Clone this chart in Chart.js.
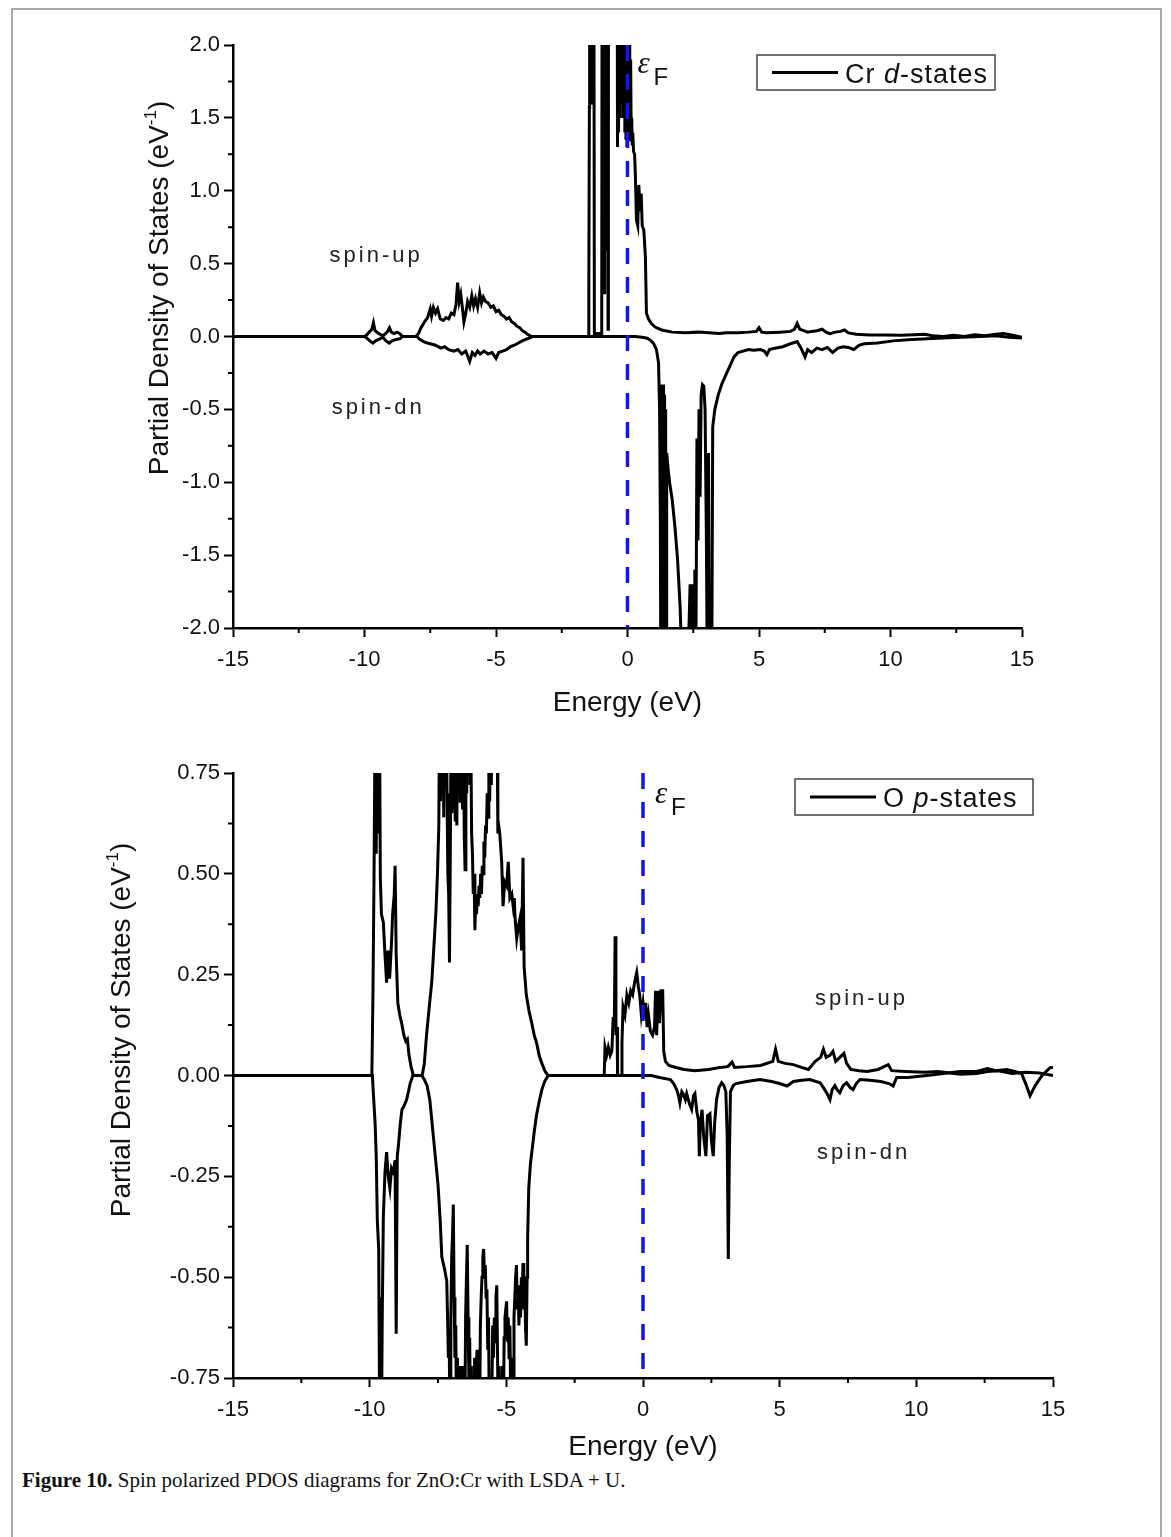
<!DOCTYPE html>
<html>
<head>
<meta charset="utf-8">
<script src="https://cdn.jsdelivr.net/npm/chart.js@4.4.1/dist/chart.umd.min.js"></script>
<style>
  html, body { margin: 0; padding: 0; background: #fff; }
  body { width: 1171px; height: 1537px; position: relative; overflow: hidden; }
  .frame { position: absolute; left: 11px; top: 8px; width: 1147px; height: 1600px; border: 2px solid #a8a8a8; }
  canvas { position: absolute; left: 0; }
  #crChart { top: 0; }
  #oChart { top: 740px; }
  .caption { position: absolute; left: 22px; top: 1468px; font: 21px "Liberation Serif", "Times New Roman", serif; color: #111; }
</style>
</head>
<body>
<div class="frame"></div>
<canvas id="crChart" width="1171" height="720"></canvas>
<canvas id="oChart" width="1171" height="724"></canvas>
<div class="caption"><b>Figure 10.</b> Spin polarized PDOS diagrams for ZnO:Cr with LSDA + U.</div>
<script>
// Cr d-states, [energy eV, PDOS]; values above the axis limits get clipped
const crUp = [
  [-15, 0], [-10.0, 0], [-9.92, 0.01], [-9.82, 0.03], [-9.72, 0.05], [-9.66, 0.095], [-9.6, 0.04], [-9.5, 0.025],
  [-9.4, 0.015], [-9.3, 0.005], [-9.2, 0.02], [-9.12, 0.035], [-9.05, 0.06], [-8.98, 0.03], [-8.88, 0.02],
  [-8.76, 0.03], [-8.66, 0.02], [-8.55, 0], [-8.05, 0],
  [-7.95, 0.02], [-7.85, 0.06], [-7.72, 0.1], [-7.6, 0.13], [-7.5, 0.19], [-7.45, 0.14], [-7.38, 0.2], [-7.3, 0.16],
  [-7.22, 0.19], [-7.12, 0.12], [-7.0, 0.11], [-6.9, 0.13], [-6.8, 0.12], [-6.7, 0.16], [-6.6, 0.15], [-6.52, 0.22],
  [-6.46, 0.37], [-6.4, 0.24], [-6.34, 0.29], [-6.28, 0.2], [-6.22, 0.1], [-6.15, 0.16], [-6.08, 0.24], [-6.0, 0.2],
  [-5.92, 0.28], [-5.85, 0.21], [-5.78, 0.26], [-5.7, 0.2], [-5.62, 0.3], [-5.55, 0.23], [-5.48, 0.27], [-5.4, 0.24],
  [-5.3, 0.23], [-5.2, 0.2], [-5.1, 0.21], [-5.0, 0.17], [-4.9, 0.18], [-4.8, 0.15], [-4.7, 0.14], [-4.6, 0.12],
  [-4.5, 0.13], [-4.4, 0.1], [-4.3, 0.09], [-4.2, 0.07], [-4.1, 0.06], [-4.0, 0.04], [-3.9, 0.03], [-3.8, 0.015],
  [-3.65, 0],
  [-1.5, 0], [-1.47, 0.34], [-1.45, 1.57], [-1.44, 3.2], [-1.42, 1.6], [-1.4, 3.0], [-1.38, 1.7], [-1.36, 3.1],
  [-1.34, 1.6], [-1.32, 3.0], [-1.3, 1.8], [-1.28, 3.0], [-1.26, 0.02],
  [-0.98, 0.02], [-0.965, 3.0], [-0.95, 0.4], [-0.935, 3.0], [-0.92, 1.0], [-0.905, 3.0], [-0.89, 0.3], [-0.875, 3.0],
  [-0.86, 1.2], [-0.845, 3.0], [-0.83, 0.8], [-0.815, 3.0], [-0.8, 1.3], [-0.785, 3.0], [-0.77, 0.6], [-0.755, 3.0],
  [-0.74, 0.05], [-0.725, 3.5], [-0.4, 3.6], [-0.38, 1.3], [-0.36, 3.0], [-0.34, 1.4], [-0.32, 3.0], [-0.3, 1.5],
  [-0.28, 3.0], [-0.26, 1.6], [-0.24, 3.0], [-0.22, 1.8], [-0.2, 3.0], [-0.18, 1.5], [-0.16, 3.0], [-0.14, 1.6],
  [-0.12, 2.8], [-0.1, 1.4], [-0.08, 2.9], [-0.06, 1.35], [-0.04, 2.6], [-0.02, 1.3], [0.0, 2.5], [0.02, 1.45],
  [0.04, 2.3], [0.06, 1.4], [0.08, 2.2], [0.1, 1.35], [0.12, 1.9], [0.14, 1.4], [0.16, 1.5], [0.18, 1.32],
  [0.2, 1.4], [0.23, 1.27], [0.27, 1.25], [0.3, 1.1], [0.34, 0.8], [0.39, 0.76], [0.43, 1.04], [0.48, 0.86],
  [0.52, 0.98], [0.56, 0.76], [0.62, 0.73], [0.68, 0.55], [0.72, 0.16], [0.8, 0.12], [0.9, 0.09], [1.05, 0.065],
  [1.3, 0.045], [1.7, 0.03], [2.2, 0.025], [2.7, 0.03], [3.1, 0.025], [3.5, 0.02], [3.75, 0.025], [4.2, 0.025],
  [4.6, 0.03], [4.9, 0.035], [5.0, 0.06], [5.1, 0.03], [5.3, 0.025], [5.8, 0.03], [6.2, 0.035], [6.35, 0.05],
  [6.45, 0.09], [6.55, 0.05], [6.7, 0.04], [6.85, 0.03], [7.0, 0.035], [7.2, 0.04], [7.4, 0.05], [7.55, 0.03],
  [7.7, 0.02], [7.9, 0.03], [8.1, 0.035], [8.25, 0.045], [8.4, 0.025], [8.7, 0.015], [9.2, 0.01], [9.8, 0.01],
  [10.4, 0.008], [10.9, 0.012], [11.3, 0.015], [11.6, 0.005], [12.0, 0.0], [12.4, 0.008], [12.8, 0.0],
  [13.2, 0.012], [13.6, 0.005], [14.0, 0.015], [14.3, 0.02], [14.6, 0.01], [15, -0.005]
];
const crDn = [
  [-15, 0], [-10.0, 0], [-9.92, -0.01], [-9.8, -0.03], [-9.68, -0.045], [-9.58, -0.03], [-9.45, -0.02], [-9.3, -0.005],
  [-9.18, -0.03], [-9.06, -0.045], [-8.95, -0.03], [-8.8, -0.02], [-8.65, -0.015], [-8.55, 0], [-8.0, 0],
  [-7.9, -0.02], [-7.7, -0.04], [-7.5, -0.05], [-7.3, -0.06], [-7.1, -0.08], [-6.95, -0.07], [-6.8, -0.09],
  [-6.6, -0.1], [-6.45, -0.09], [-6.3, -0.12], [-6.15, -0.1], [-6.0, -0.17], [-5.9, -0.11], [-5.8, -0.13],
  [-5.7, -0.1], [-5.6, -0.12], [-5.45, -0.1], [-5.3, -0.12], [-5.15, -0.11], [-5.0, -0.15], [-4.9, -0.11],
  [-4.75, -0.1], [-4.6, -0.09], [-4.45, -0.07], [-4.3, -0.06], [-4.15, -0.045], [-4.0, -0.03], [-3.8, -0.015],
  [-3.6, 0],
  [0.3, 0], [0.55, -0.005], [0.75, -0.012], [0.9, -0.03], [1.0, -0.05], [1.1, -0.09], [1.18, -0.18], [1.22, -0.5],
  [1.25, -1.3], [1.27, -2.6], [1.29, -0.33], [1.31, -2.5], [1.33, -0.35], [1.35, -2.5], [1.37, -0.33], [1.39, -2.4],
  [1.41, -0.4], [1.43, -2.4], [1.45, -0.5], [1.47, -2.3], [1.49, -0.8], [1.55, -0.92],
  [1.6, -1.0], [1.7, -1.12], [1.8, -1.3], [1.9, -1.52], [2.0, -1.85], [2.06, -2.2], [2.25, -2.6], [2.38, -1.7],
  [2.41, -2.4], [2.44, -1.75], [2.47, -2.4], [2.5, -1.7], [2.53, -2.4], [2.56, -1.6], [2.6, -2.2], [2.64, -0.7],
  [2.68, -1.4], [2.72, -0.5], [2.76, -1.1], [2.8, -0.4], [2.85, -0.33], [2.9, -0.34], [2.95, -0.5], [3.0, -1.4],
  [3.04, -2.5], [3.08, -0.8], [3.12, -2.5], [3.2, -2.5], [3.24, -0.62], [3.32, -0.5], [3.45, -0.4],
  [3.6, -0.32], [3.75, -0.26], [3.9, -0.2], [4.05, -0.14], [4.2, -0.11], [4.4, -0.1], [4.6, -0.09], [4.8, -0.095],
  [5.05, -0.09], [5.2, -0.1], [5.3, -0.125], [5.4, -0.09], [5.6, -0.08], [5.9, -0.07], [6.2, -0.05], [6.45, -0.035],
  [6.6, -0.08], [6.75, -0.14], [6.85, -0.09], [7.0, -0.11], [7.2, -0.08], [7.4, -0.09], [7.6, -0.075], [7.8, -0.11],
  [8.0, -0.08], [8.2, -0.07], [8.4, -0.075], [8.6, -0.09], [8.8, -0.06], [9.0, -0.05], [9.5, -0.045], [10.1, -0.03],
  [10.8, -0.02], [11.4, -0.015], [12.0, -0.01], [12.7, -0.005], [13.4, 0.0], [14.0, 0.005], [14.5, -0.005], [15, -0.01]
];

// O p-states
const oUp = [
  [-15, 0], [-9.92, 0], [-9.88, 0.2], [-9.84, 0.5], [-9.8, 0.9], [-9.76, 0.55], [-9.72, 0.95], [-9.68, 0.6],
  [-9.64, 0.9], [-9.61, 0.49], [-9.57, 0.4], [-9.5, 0.38], [-9.44, 0.3], [-9.38, 0.23], [-9.33, 0.31], [-9.27, 0.24],
  [-9.2, 0.33], [-9.16, 0.4], [-9.1, 0.45], [-9.07, 0.52], [-9.03, 0.3], [-8.97, 0.18], [-8.9, 0.15], [-8.83, 0.13],
  [-8.75, 0.1], [-8.68, 0.085], [-8.62, 0.09], [-8.56, 0.05], [-8.48, 0.02], [-8.4, 0], [-8.08, 0],
  [-8.0, 0.03], [-7.92, 0.1], [-7.82, 0.17], [-7.73, 0.23], [-7.65, 0.32], [-7.58, 0.4], [-7.52, 0.5], [-7.47, 0.62],
  [-7.44, 0.95], [-7.41, 0.68], [-7.38, 1.0], [-7.35, 0.7], [-7.32, 0.98], [-7.29, 0.64], [-7.26, 0.95], [-7.23, 0.75],
  [-7.2, 0.95], [-7.17, 0.7], [-7.14, 0.5], [-7.11, 0.45], [-7.08, 0.28], [-7.05, 0.55], [-7.02, 0.9], [-6.99, 0.65],
  [-6.96, 0.95], [-6.93, 0.66], [-6.9, 0.95], [-6.87, 0.63], [-6.84, 0.9], [-6.81, 0.62], [-6.78, 0.95], [-6.75, 0.72],
  [-6.72, 1.0], [-6.69, 0.68], [-6.66, 1.0], [-6.63, 0.7], [-6.6, 0.66], [-6.57, 0.9], [-6.54, 0.6], [-6.51, 0.51],
  [-6.48, 0.85], [-6.45, 0.7], [-6.42, 0.95], [-6.39, 0.75], [-6.36, 0.9], [-6.33, 0.72], [-6.3, 0.85], [-6.27, 0.6],
  [-6.24, 0.55], [-6.21, 0.45], [-6.18, 0.5], [-6.15, 0.36], [-6.12, 0.44], [-6.09, 0.4], [-6.06, 0.45], [-6.03, 0.42],
  [-6.0, 0.47], [-5.97, 0.44], [-5.94, 0.5], [-5.91, 0.45], [-5.88, 0.52], [-5.85, 0.5], [-5.82, 0.58], [-5.79, 0.54],
  [-5.76, 0.62], [-5.73, 0.6], [-5.7, 0.7], [-5.67, 0.64], [-5.64, 0.76], [-5.61, 0.68], [-5.58, 0.85], [-5.55, 0.72],
  [-5.52, 0.95], [-5.49, 0.75], [-5.46, 0.95], [-5.43, 0.8], [-5.4, 0.92], [-5.37, 0.78], [-5.34, 0.9], [-5.31, 0.6],
  [-5.28, 0.62], [-5.24, 0.6], [-5.2, 0.56], [-5.17, 0.53], [-5.12, 0.42], [-5.06, 0.48], [-4.99, 0.47], [-4.93, 0.53],
  [-4.87, 0.44], [-4.8, 0.45], [-4.75, 0.42], [-4.71, 0.44], [-4.68, 0.39], [-4.62, 0.34], [-4.56, 0.37], [-4.5, 0.39],
  [-4.44, 0.31], [-4.39, 0.54], [-4.35, 0.27], [-4.27, 0.2], [-4.17, 0.16], [-4.07, 0.13], [-3.98, 0.1], [-3.89, 0.08],
  [-3.8, 0.05], [-3.7, 0.03], [-3.58, 0.01], [-3.47, 0],
  [-1.42, 0], [-1.39, 0.07], [-1.33, 0.05], [-1.27, 0.07], [-1.2, 0.05], [-1.14, 0.06], [-1.09, 0.145], [-1.05, 0.12],
  [-1.02, 0.345], [-0.99, 0.1], [-0.95, 0.12], [-0.93, 0.0], [-0.8, 0.0], [-0.77, 0.08], [-0.73, 0.17], [-0.66, 0.15],
  [-0.59, 0.2], [-0.52, 0.18], [-0.45, 0.21], [-0.38, 0.2], [-0.31, 0.23], [-0.23, 0.255], [-0.17, 0.22], [-0.12, 0.2],
  [-0.06, 0.15], [0.0, 0.18], [0.05, 0.14], [0.1, 0.18], [0.15, 0.12], [0.2, 0.15], [0.27, 0.11], [0.35, 0.1],
  [0.42, 0.12], [0.46, 0.21], [0.5, 0.1], [0.55, 0.21], [0.6, 0.13], [0.66, 0.21], [0.72, 0.21], [0.76, 0.06],
  [0.82, 0.035], [0.95, 0.025], [1.2, 0.02], [1.5, 0.015], [1.9, 0.012], [2.4, 0.015], [2.8, 0.02], [3.1, 0.022],
  [3.26, 0.033], [3.35, 0.02], [3.8, 0.022], [4.3, 0.025], [4.75, 0.035], [4.85, 0.065], [4.95, 0.035], [5.2, 0.03],
  [5.5, 0.027], [5.8, 0.02], [6.05, 0.015], [6.3, 0.035], [6.5, 0.045], [6.6, 0.065], [6.7, 0.045], [6.84, 0.05],
  [6.95, 0.06], [7.05, 0.035], [7.2, 0.045], [7.35, 0.055], [7.45, 0.03], [7.6, 0.015], [7.9, 0.012], [8.2, 0.01],
  [8.6, 0.015], [8.97, 0.027], [9.1, 0.012], [9.6, 0.01], [10.3, 0.008], [10.8, 0.01], [11.6, 0.003], [12.2, 0.005],
  [12.6, 0.01], [13.0, 0.012], [13.5, 0.005], [14.0, 0.008], [14.5, 0.006], [15, 0.0]
];
const oDn = [
  [-15, 0], [-9.9, 0], [-9.86, -0.05], [-9.8, -0.12], [-9.76, -0.2], [-9.72, -0.36], [-9.67, -0.43], [-9.63, -0.9],
  [-9.6, -0.55], [-9.57, -0.9], [-9.54, -0.6], [-9.5, -0.35], [-9.44, -0.24], [-9.38, -0.19], [-9.32, -0.25],
  [-9.26, -0.28], [-9.2, -0.23], [-9.13, -0.24], [-9.07, -0.21], [-9.03, -0.64], [-8.99, -0.2], [-8.95, -0.175],
  [-8.88, -0.12], [-8.82, -0.085], [-8.74, -0.075], [-8.65, -0.06], [-8.58, -0.04], [-8.52, -0.02], [-8.42, 0],
  [-8.1, 0],
  [-8.0, -0.01], [-7.9, -0.025], [-7.8, -0.06], [-7.7, -0.13], [-7.6, -0.2], [-7.5, -0.27], [-7.42, -0.36],
  [-7.36, -0.45], [-7.26, -0.48], [-7.18, -0.51], [-7.15, -0.6], [-7.12, -0.7], [-7.09, -0.65], [-7.06, -0.9],
  [-7.03, -0.6], [-7.0, -0.45], [-6.97, -0.4], [-6.94, -0.32], [-6.91, -0.55], [-6.88, -0.7], [-6.85, -0.62],
  [-6.82, -0.9], [-6.79, -0.7], [-6.76, -0.92], [-6.73, -0.72], [-6.7, -0.9], [-6.67, -0.78], [-6.64, -0.92],
  [-6.61, -0.72], [-6.58, -0.88], [-6.55, -0.75], [-6.52, -0.9], [-6.49, -0.6], [-6.46, -0.5], [-6.43, -0.42],
  [-6.4, -0.6], [-6.37, -0.75], [-6.34, -0.65], [-6.31, -0.9], [-6.28, -0.72], [-6.25, -0.92], [-6.22, -0.8],
  [-6.19, -0.95], [-6.16, -0.7], [-6.13, -0.9], [-6.1, -0.72], [-6.07, -0.68], [-6.04, -0.9], [-6.01, -0.7],
  [-5.98, -0.9], [-5.95, -0.62], [-5.92, -0.55], [-5.89, -0.5], [-5.86, -0.45], [-5.83, -0.43], [-5.8, -0.5],
  [-5.77, -0.47], [-5.74, -0.55], [-5.71, -0.53], [-5.68, -0.68], [-5.65, -0.6], [-5.62, -0.9], [-5.59, -0.75],
  [-5.56, -0.92], [-5.53, -0.8], [-5.5, -0.62], [-5.47, -0.7], [-5.44, -0.6], [-5.41, -0.66], [-5.38, -0.55],
  [-5.35, -0.52], [-5.32, -0.7], [-5.29, -0.9], [-5.26, -0.72], [-5.23, -0.92], [-5.2, -0.75], [-5.17, -0.9],
  [-5.14, -0.72], [-5.11, -0.85], [-5.08, -0.65], [-5.05, -0.6], [-5.02, -0.58], [-4.99, -0.56], [-4.96, -0.66],
  [-4.93, -0.6], [-4.9, -0.7], [-4.87, -0.62], [-4.84, -0.8], [-4.81, -0.9], [-4.78, -0.7], [-4.75, -0.9],
  [-4.72, -0.6], [-4.69, -0.55], [-4.66, -0.5], [-4.63, -0.47], [-4.6, -0.58], [-4.57, -0.52], [-4.54, -0.62],
  [-4.51, -0.55], [-4.48, -0.6], [-4.45, -0.5], [-4.42, -0.55], [-4.39, -0.465], [-4.36, -0.58], [-4.33, -0.5],
  [-4.3, -0.62], [-4.27, -0.67], [-4.24, -0.5], [-4.22, -0.4], [-4.18, -0.28], [-4.12, -0.22], [-4.05, -0.18],
  [-3.98, -0.14], [-3.9, -0.1], [-3.8, -0.065], [-3.7, -0.035], [-3.6, -0.015], [-3.47, 0],
  [0.3, 0], [0.6, -0.005], [1.0, -0.01], [1.12, -0.02], [1.23, -0.035], [1.3, -0.05], [1.35, -0.068], [1.42, -0.04],
  [1.47, -0.045], [1.55, -0.06], [1.6, -0.045], [1.7, -0.07], [1.78, -0.084], [1.85, -0.05], [1.9, -0.045],
  [1.97, -0.09], [2.03, -0.11], [2.06, -0.2], [2.1, -0.12], [2.16, -0.085], [2.22, -0.15], [2.3, -0.2], [2.36, -0.1],
  [2.45, -0.095], [2.5, -0.16], [2.57, -0.2], [2.62, -0.12], [2.69, -0.06], [2.78, -0.03], [2.88, -0.018],
  [2.96, -0.025], [3.03, -0.04], [3.08, -0.15], [3.12, -0.455], [3.16, -0.2], [3.2, -0.04], [3.3, -0.025],
  [3.4, -0.02], [3.8, -0.015], [4.28, -0.01], [4.7, -0.015], [5.0, -0.02], [5.27, -0.026], [5.5, -0.015],
  [5.8, -0.012], [6.1, -0.01], [6.48, -0.018], [6.6, -0.03], [6.72, -0.043], [6.84, -0.06], [6.92, -0.035],
  [7.02, -0.025], [7.1, -0.035], [7.2, -0.043], [7.32, -0.025], [7.45, -0.018], [7.58, -0.03], [7.69, -0.035],
  [7.8, -0.02], [7.94, -0.01], [8.3, -0.012], [8.7, -0.015], [9.0, -0.02], [9.15, -0.026], [9.28, -0.005],
  [9.7, -0.005], [10.38, 0.0], [11.0, 0.005], [11.6, 0.01], [12.2, 0.01], [12.6, 0.017], [12.9, 0.012],
  [13.3, 0.015], [13.6, 0.01], [13.85, 0.005], [14.0, -0.02], [14.16, -0.05], [14.35, -0.025], [14.6, 0.0],
  [14.9, 0.02], [15, 0.02]
];

// axis ticks
const energyMinor = [-12.5, -7.5, -2.5, 2.5, 7.5, 12.5];
const crMinor = [-1.75, -1.25, -0.75, -0.25, 0.25, 0.75, 1.25, 1.75];
const oMinor = [-0.625, -0.375, -0.125, 0.125, 0.375, 0.625];

const FONT = "'Liberation Sans', Arial, sans-serif";
Chart.defaults.font.family = FONT;
Chart.defaults.color = '#111';

const toXY = arr => arr.map(p => ({ x: p[0], y: p[1] }));

function curve(data) {
  return { data: toXY(data), borderColor: '#000', borderWidth: 3, pointRadius: 0, tension: 0, fill: false };
}
function fermiLine(yMin, yMax) {
  return {
    data: [{ x: 0, y: yMax }, { x: 0, y: yMin }],
    borderColor: '#1515e6', borderWidth: 3.5, borderDash: [16, 13], pointRadius: 0, fill: false
  };
}

// minor ticks, axis title with superscript, legend box and text labels
const decor = {
  id: 'decor',
  afterDraw(chart, args, o) {
    const ctx = chart.ctx;
    const xs = chart.scales.x, ys = chart.scales.y;
    const area = chart.chartArea;
    ctx.save();

    ctx.strokeStyle = '#000';
    ctx.lineWidth = 2;
    ctx.beginPath();
    o.xMinor.forEach(v => {
      const px = xs.getPixelForValue(v);
      ctx.moveTo(px, area.bottom); ctx.lineTo(px, area.bottom + 5);
    });
    o.yMinor.forEach(v => {
      const py = ys.getPixelForValue(v);
      ctx.moveTo(area.left, py); ctx.lineTo(area.left - 5, py);
    });
    ctx.stroke();

    // y title
    ctx.save();
    ctx.translate(o.yTitle.x, o.yTitle.y);
    ctx.rotate(-Math.PI / 2);
    ctx.fillStyle = '#111';
    ctx.textBaseline = 'middle';
    ctx.textAlign = 'left';
    const big = '28px ' + FONT, small = '17px ' + FONT;
    ctx.font = big;
    const w1 = ctx.measureText('Partial Density of States (eV').width;
    const w3 = ctx.measureText(')').width;
    ctx.font = small;
    const w2 = ctx.measureText('-1').width;
    let sx = -(w1 + w2 + w3) / 2;
    ctx.font = big;
    ctx.fillText('Partial Density of States (eV', sx, 0);
    ctx.font = small;
    ctx.fillText('-1', sx + w1, -9);
    ctx.font = big;
    ctx.fillText(')', sx + w1 + w2, 0);
    ctx.restore();

    // legend
    const lg = o.legend;
    ctx.strokeStyle = '#444';
    ctx.lineWidth = 1.5;
    ctx.strokeRect(lg.x, lg.y, lg.w, lg.h);
    ctx.strokeStyle = '#000';
    ctx.lineWidth = 3;
    ctx.beginPath();
    ctx.moveTo(lg.x + 15, lg.y + lg.h / 2); ctx.lineTo(lg.x + 81, lg.y + lg.h / 2);
    ctx.stroke();
    ctx.fillStyle = '#111';
    ctx.textBaseline = 'alphabetic';
    ctx.letterSpacing = '1px';
    let tx = lg.x + 88;
    lg.parts.forEach(([txt, italic]) => {
      ctx.font = (italic ? 'italic ' : '') + '27px ' + FONT;
      ctx.fillText(txt, tx, lg.y + lg.h / 2 + 10);
      tx += ctx.measureText(txt).width;
    });

    // spin labels at data positions
    ctx.font = '22px ' + FONT;
    ctx.letterSpacing = '3px';
    ctx.fillStyle = '#222';
    o.labels.forEach(l => {
      ctx.fillText(l.text, xs.getPixelForValue(l.x), ys.getPixelForValue(l.y));
    });
    ctx.letterSpacing = '0px';

    // Fermi level label
    const x0 = xs.getPixelForValue(0);
    ctx.fillStyle = '#111';
    ctx.font = 'italic 31px "Liberation Serif", serif';
    ctx.fillText('\u03B5', x0 + o.eps.dx, area.top + o.eps.dy);
    ctx.font = '24px ' + FONT;
    ctx.fillText('F', x0 + o.eps.dx + 16, area.top + o.eps.dy + 12);

    ctx.restore();
  }
};

function axisOpts(min, max, step, digits, pad, fitKey, fitVal, extra) {
  return Object.assign({
    type: 'linear', min: min, max: max,
    ticks: {
      stepSize: step, font: { size: 22 }, color: '#111', padding: pad,
      callback: v => (Math.abs(v) < 1e-9 ? 0 : v).toFixed(digits)
    },
    grid: { drawOnChartArea: false, drawTicks: true, tickLength: 9, tickWidth: 2, tickColor: '#000' },
    border: { display: true, color: '#000', width: 2.5 },
    afterFit: s => { s[fitKey] = fitVal; }
  }, extra || {});
}

function makeChart(id, up, dn, yMin, yMax, yStep, digits, cfg) {
  return new Chart(document.getElementById(id), {
    type: 'line',
    data: { datasets: [fermiLine(yMin, yMax), curve(up), curve(dn)] },
    options: {
      responsive: false,
      animation: false,
      layout: { padding: { top: cfg.padTop, right: cfg.padRight, left: 0, bottom: 0 } },
      scales: {
        x: axisOpts(-15, 15, 5, 0, 10, 'height', cfg.xHeight, {
          title: { display: true, text: 'Energy (eV)', font: { size: 28 }, color: '#111', padding: 0 }
        }),
        y: axisOpts(yMin, yMax, yStep, digits, 4, 'width', 233)
      },
      plugins: {
        legend: { display: false },
        tooltip: { enabled: false },
        decor: cfg.decor
      }
    },
    plugins: [decor]
  });
}

makeChart('crChart', crUp, crDn, -2, 2, 0.5, 1, {
  padTop: 45, padRight: 149, xHeight: 92,
  decor: {
    xMinor: energyMinor, yMinor: crMinor,
    yTitle: { x: 160, y: 288 },
    legend: { x: 757, y: 55, w: 238, h: 35, parts: [['Cr ', false], ['d', true], ['-states', false]] },
    labels: [{ text: 'spin-up', x: -11.33, y: 0.508 }, { text: 'spin-dn', x: -11.25, y: -0.535 }],
    eps: { dx: 10, dy: 28 }
  }
});

makeChart('oChart', oUp, oDn, -0.75, 0.75, 0.25, 2, {
  padTop: 33, padRight: 118, xHeight: 86,
  decor: {
    xMinor: energyMinor, yMinor: oMinor,
    yTitle: { x: 122, y: 290 },
    legend: { x: 795, y: 39, w: 238, h: 36, parts: [['O ', false], ['p', true], ['-states', false]] },
    labels: [{ text: 'spin-up', x: 6.29, y: 0.174 }, { text: 'spin-dn', x: 6.37, y: -0.206 }],
    eps: { dx: 12, dy: 30 }
  }
});
</script>
</body>
</html>
